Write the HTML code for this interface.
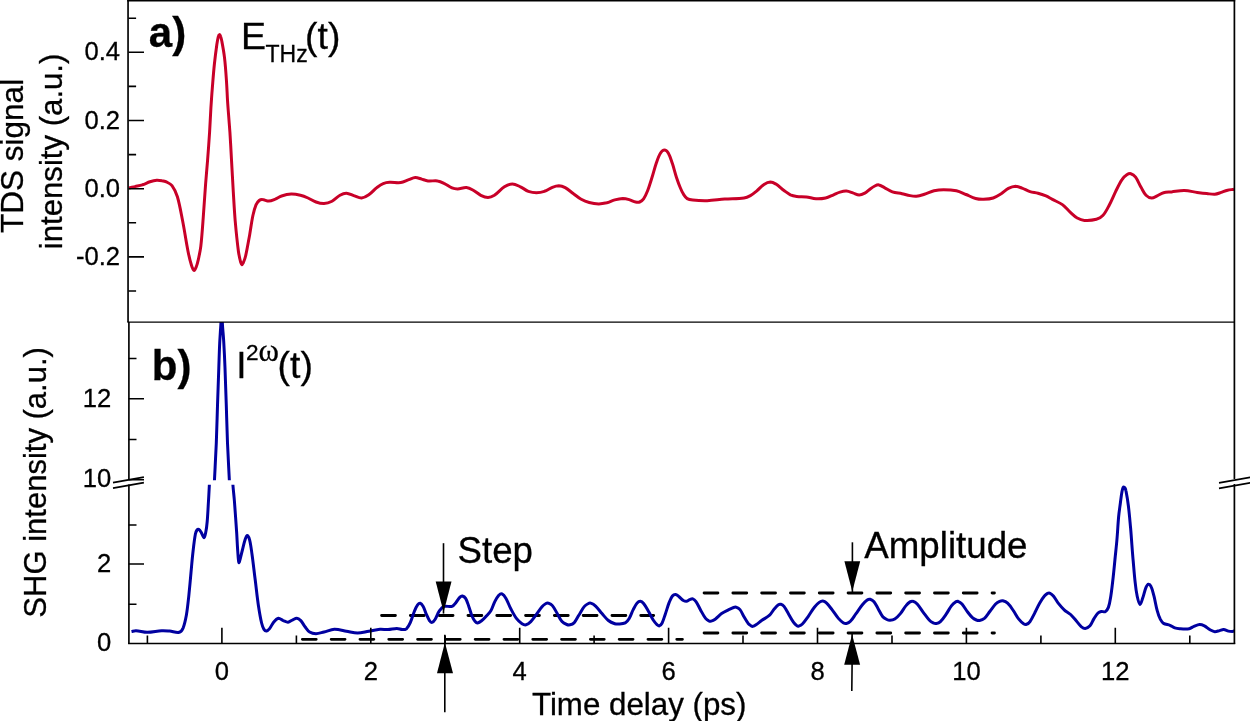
<!DOCTYPE html>
<html><head><meta charset="utf-8"><title>TDS and SHG</title>
<style>html,body{margin:0;padding:0;background:#fff}body{width:1250px;height:721px;overflow:hidden}svg{display:block}text{font-family:"Liberation Sans",sans-serif;fill:#000;stroke:#000;stroke-width:0.3px}</style></head><body>
<svg width="1250" height="721" viewBox="0 0 1250 721">
<rect width="1250" height="721" fill="#fff"/>
<defs><clipPath id="cu"><rect x="129" y="322" width="1105" height="158.2"/></clipPath><clipPath id="cl"><rect x="129" y="484.8" width="1105.4" height="160"/></clipPath><clipPath id="ca"><rect x="128.5" y="0" width="1105.9" height="322"/></clipPath></defs>
<g stroke="#000" stroke-width="2.9" stroke-dasharray="13.8 15" stroke-linecap="round" fill="none">
<path d="M302.4,639.35H682.4"/>
<path d="M381.6,615.45H653.6"/>
<path d="M704.1,593.0H994.4"/>
<path d="M704.1,633.0H994.4"/>
</g>
<path d="M128.8,188.0C130.9,187.5 132.9,187.1 135.0,186.6C137.5,186.0 140.0,185.6 142.4,184.8C145.0,184.0 147.4,182.6 150.0,181.8C152.2,181.1 154.5,180.5 156.8,180.3C158.5,180.2 160.3,180.5 162.0,180.8C163.5,181.0 165.1,181.3 166.4,181.9C168.4,182.9 170.7,183.9 172.0,185.6C174.4,188.8 176.2,192.9 177.4,196.8C179.7,204.6 181.0,212.8 182.6,220.8C184.6,230.9 186.0,241.1 188.0,251.2C188.9,255.8 190.0,260.5 191.4,265.0C192.0,266.9 193.1,270.0 194.1,270.4C194.7,270.7 195.7,268.2 196.2,267.0C197.2,264.5 197.8,261.8 198.4,259.2C199.3,255.0 200.3,250.7 200.8,246.4C201.9,237.0 202.5,227.5 203.2,218.0C204.1,206.7 204.7,195.3 205.6,184.0C206.2,176.0 207.0,168.0 207.6,160.0C208.3,150.7 209.0,141.3 209.6,132.0C210.1,124.0 210.4,116.0 210.9,108.0C211.3,101.9 211.7,95.7 212.2,89.6C212.9,81.1 213.5,72.5 214.4,64.0C215.1,57.6 215.9,51.2 216.8,44.8C217.2,42.2 217.6,39.5 218.2,37.0C218.4,36.1 219.0,34.7 219.4,34.6C219.8,34.5 220.4,35.8 220.6,36.5C221.2,38.1 221.6,39.9 221.9,41.6C222.9,46.9 223.9,52.2 224.5,57.6C225.4,65.0 225.9,72.5 226.4,80.0C226.9,86.7 227.1,93.3 227.5,100.0C227.8,105.0 228.2,110.0 228.6,115.0C229.0,120.7 229.5,126.3 229.9,132.0C230.5,141.3 231.0,150.7 231.5,160.0C232.1,170.7 232.7,181.3 233.3,192.0C233.9,201.7 234.4,211.4 235.2,221.0C236.1,231.1 237.1,241.2 238.4,251.2C238.9,254.8 239.7,258.5 240.6,262.0C240.9,263.0 241.4,264.7 241.9,264.8C242.3,264.9 243.0,263.3 243.4,262.5C244.3,260.4 245.1,258.2 245.6,256.0C247.2,249.1 248.3,242.1 249.6,235.2C250.7,228.8 251.5,222.3 252.8,216.0C253.6,212.2 254.5,208.3 256.0,204.8C256.7,203.2 257.9,201.6 259.2,200.5C260.0,199.8 261.3,199.4 262.4,199.5C264.5,199.6 266.7,201.1 268.8,201.1C270.9,201.0 273.1,200.0 275.2,199.2C277.4,198.3 279.3,196.7 281.6,196.0C284.7,195.0 288.0,194.2 291.2,194.1C294.2,194.0 297.4,194.6 300.4,195.3C303.0,195.9 305.5,196.9 308.0,198.0C310.7,199.2 313.2,201.0 316.0,202.0C318.5,202.9 321.4,203.7 324.0,203.6C326.7,203.5 329.6,202.5 332.0,201.2C334.9,199.7 337.1,196.9 340.0,195.3C341.9,194.2 344.3,193.1 346.4,193.2C349.1,193.3 351.7,195.1 354.4,195.9C356.8,196.7 359.3,198.2 361.6,198.0C364.1,197.8 366.7,196.3 368.8,194.8C371.7,192.8 374.0,189.8 376.8,187.6C378.8,186.1 380.9,184.5 383.2,183.6C385.2,182.8 387.4,182.4 389.6,182.3C393.3,182.1 397.2,183.0 400.8,182.5C403.6,182.1 406.1,180.5 408.8,179.6C410.9,178.9 413.0,177.6 415.2,177.5C417.3,177.4 419.5,178.5 421.6,179.1C423.7,179.7 425.8,180.7 428.0,180.9C431.2,181.3 434.5,180.4 437.6,180.9C439.8,181.2 442.0,182.3 444.0,183.3C446.8,184.6 449.2,186.7 452.0,187.9C453.7,188.6 455.7,188.9 457.6,188.9C460.5,188.8 463.5,187.4 466.4,187.6C468.6,187.8 470.8,188.9 472.8,190.0C475.6,191.5 478.0,193.9 480.8,195.3C483.0,196.4 485.6,197.5 488.0,197.5C490.1,197.5 492.5,196.5 494.4,195.3C498.0,192.9 500.8,189.1 504.4,186.8C506.8,185.3 509.7,183.9 512.4,183.9C515.1,183.9 517.8,185.6 520.4,186.8C523.2,188.1 525.6,190.3 528.4,191.3C530.9,192.2 533.7,192.7 536.4,192.7C539.1,192.7 541.9,192.2 544.4,191.3C547.2,190.4 549.6,188.4 552.4,187.3C554.4,186.5 556.7,185.7 558.8,185.7C560.9,185.8 563.3,186.6 565.2,187.6C568.1,189.2 570.5,191.5 573.2,193.5C575.9,195.4 578.4,197.7 581.2,199.3C583.7,200.7 586.4,201.8 589.2,202.5C592.3,203.3 595.6,203.8 598.8,203.9C601.5,203.9 604.2,203.4 606.8,202.8C609.5,202.1 612.1,200.6 614.8,199.9C617.4,199.2 620.1,198.6 622.8,198.5C624.9,198.5 627.1,199.0 629.2,199.6C631.4,200.2 633.4,201.5 635.6,202.0C636.9,202.3 638.4,202.5 639.6,202.0C641.1,201.4 642.6,200.2 643.6,198.8C645.3,196.4 646.5,193.6 647.6,190.8C649.2,186.9 650.3,182.8 651.6,178.8C653.3,173.5 654.6,168.1 656.4,162.8C657.5,159.5 658.6,156.1 660.4,153.2C661.3,151.8 663.1,150.0 664.4,150.0C665.7,150.0 667.6,151.8 668.4,153.2C670.2,156.3 671.2,160.1 672.4,163.6C673.9,168.1 674.9,172.7 676.4,177.2C677.6,180.8 678.9,184.5 680.4,188.0C681.3,190.2 682.3,192.4 683.6,194.4C684.6,195.9 685.7,197.7 687.2,198.6C688.8,199.6 690.9,199.9 692.8,200.1C697.6,200.6 702.4,200.8 707.2,200.7C713.1,200.5 718.9,199.5 724.8,199.1C731.2,198.6 737.7,198.9 744.0,198.0C746.2,197.7 748.4,196.7 750.4,195.6C752.7,194.3 754.7,192.5 756.8,190.8C759.3,188.8 761.3,186.1 764.0,184.4C765.9,183.2 768.3,182.1 770.4,182.0C772.3,182.0 774.3,183.1 776.0,184.1C778.9,185.9 781.3,188.5 784.0,190.5C786.1,192.0 788.1,193.7 790.4,194.8C792.4,195.7 794.6,196.1 796.8,196.4C800.0,196.8 803.2,196.5 806.4,196.9C809.6,197.3 812.8,198.6 816.0,198.8C819.2,199.0 822.5,198.7 825.6,198.0C828.4,197.4 830.9,195.9 833.6,194.8C835.7,193.9 837.8,192.7 840.0,192.1C842.1,191.5 844.3,191.0 846.4,191.1C848.6,191.2 850.7,192.2 852.8,192.9C855.0,193.6 857.1,195.0 859.2,195.1C861.1,195.1 863.1,194.1 864.8,193.2C866.8,192.1 868.4,190.3 870.2,189.0C871.7,187.9 873.2,186.8 874.8,186.0C876.0,185.4 877.5,184.7 878.8,184.9C880.7,185.2 882.6,186.7 884.4,187.6C887.1,189.0 889.6,190.9 892.4,191.9C895.4,193.0 898.8,193.0 902.0,193.7C904.7,194.3 907.3,195.1 910.0,195.6C912.1,196.0 914.3,196.4 916.4,196.2C919.1,196.0 921.8,195.1 924.4,194.3C927.7,193.3 930.7,191.6 934.0,190.8C937.1,190.1 940.4,189.7 943.6,189.7C947.9,189.7 952.3,189.9 956.4,190.8C959.7,191.5 962.8,193.2 966.0,194.5C969.2,195.8 972.3,197.6 975.6,198.5C978.2,199.2 980.9,199.4 983.6,199.3C986.8,199.2 990.2,199.0 993.2,198.0C996.0,197.1 998.6,195.3 1001.2,193.7C1003.7,192.1 1005.8,189.7 1008.4,188.4C1010.6,187.3 1013.2,186.4 1015.6,186.3C1017.7,186.3 1019.9,187.3 1022.0,188.1C1024.7,189.1 1027.2,190.7 1030.0,191.6C1032.6,192.4 1035.4,192.5 1038.0,193.2C1040.7,193.9 1043.4,194.8 1046.0,195.9C1048.2,196.9 1050.3,198.3 1052.4,199.4C1055.7,201.2 1059.4,202.4 1062.4,204.6C1065.4,206.8 1067.6,209.9 1070.4,212.4C1072.6,214.4 1074.7,216.6 1077.2,218.0C1079.4,219.2 1081.9,220.2 1084.4,220.4C1088.3,220.7 1092.6,220.3 1096.4,219.3C1098.7,218.7 1101.2,217.4 1102.8,215.6C1105.5,212.7 1107.3,208.8 1109.2,205.2C1111.6,200.8 1113.4,196.1 1115.6,191.6C1117.6,187.5 1119.5,183.3 1122.0,179.6C1123.2,177.7 1125.0,176.0 1126.8,174.8C1127.9,174.1 1129.6,173.4 1130.8,173.7C1132.5,174.2 1134.4,175.6 1135.6,177.2C1137.9,180.3 1139.2,184.2 1141.2,187.6C1142.7,190.2 1143.9,193.2 1146.0,195.3C1147.4,196.7 1149.7,197.9 1151.6,198.0C1153.4,198.1 1155.4,196.7 1157.2,195.9C1159.4,194.9 1161.3,193.3 1163.6,192.7C1166.1,192.0 1168.9,192.2 1171.6,191.9C1175.9,191.4 1180.1,190.4 1184.4,190.5C1188.7,190.6 1192.9,191.8 1197.2,192.4C1200.4,192.8 1203.6,193.2 1206.8,193.5C1209.5,193.8 1212.2,194.5 1214.8,194.3C1217.0,194.1 1219.1,193.1 1221.2,192.4C1223.3,191.7 1225.4,190.8 1227.6,190.3C1229.7,189.8 1231.9,189.6 1234.0,189.2" fill="none" stroke="#c80028" stroke-width="3.0" stroke-linejoin="round" stroke-linecap="butt" clip-path="url(#ca)"/>
<g fill="none" stroke="#0000a0" stroke-width="3.0" stroke-linejoin="round">
<path d="M131.5,631.5C133.0,631.2 134.5,630.6 136.0,630.7C139.7,630.9 143.5,632.3 147.2,632.3C152.0,632.3 156.8,631.0 161.6,630.7C164.3,630.5 166.9,630.8 169.6,631.0C172.8,631.3 176.4,633.0 179.2,632.3C180.9,631.9 182.4,629.6 183.2,627.8C184.8,623.8 185.6,619.3 186.4,615.0C187.5,608.7 188.1,602.2 188.8,595.8C189.6,588.0 190.3,580.3 191.0,572.5C191.7,565.0 192.3,557.5 193.2,550.0C193.8,544.7 194.4,539.3 195.4,534.0C195.7,532.6 196.2,531.1 197.0,530.0C197.4,529.5 198.3,529.1 198.8,529.3C199.7,529.7 200.4,531.0 201.0,532.0C202.1,533.8 203.3,537.7 204.1,537.7C204.9,537.7 205.4,533.9 205.8,532.0C206.5,528.5 206.9,525.0 207.2,521.5C207.7,515.7 208.0,509.8 208.3,504.0C208.7,498.0 209.0,492.0 209.3,486.0C209.5,481.7 209.8,477.3 210.0,473.0" clip-path="url(#cl)"/>
<path d="M213.6,497.0C213.9,491.1 214.2,485.2 214.5,479.3C215.1,467.2 215.8,455.1 216.3,443.0C216.8,430.5 217.1,418.0 217.5,405.5C217.9,393.0 218.4,380.5 218.8,368.0C219.1,359.7 219.3,351.3 219.7,343.0C220.0,337.2 220.4,331.3 220.8,325.5C221.1,321.0 221.4,312.0 221.7,312.0C222.0,312.0 222.2,321.0 222.5,325.5C222.9,331.3 223.5,337.2 223.8,343.0C224.3,351.3 224.7,359.7 225.0,368.0C225.5,380.5 225.9,393.0 226.3,405.5C226.7,418.0 227.0,430.5 227.5,443.0C228.0,455.1 228.7,467.2 229.3,479.3C229.6,485.2 229.9,491.1 230.2,497.0" clip-path="url(#cu)"/>
<path d="M232.2,473.0C232.5,477.3 232.7,481.7 233.0,486.0C233.4,491.0 234.0,496.0 234.4,501.0C235.2,511.7 236.0,522.5 236.7,533.2C237.1,539.5 237.3,545.7 237.8,552.0C238.1,555.5 238.3,561.1 238.9,562.5C239.2,563.1 240.0,559.5 240.4,558.0C241.1,555.4 241.7,552.7 242.4,550.0C243.3,546.7 243.9,543.3 245.0,540.0C245.5,538.4 246.4,535.4 247.2,535.4C248.0,535.4 249.2,538.2 249.6,539.8C250.8,544.5 251.3,549.4 252.0,554.2C253.2,562.7 254.1,571.3 255.2,579.8C256.3,588.3 257.1,596.9 258.4,605.4C259.3,611.3 260.2,617.2 261.6,623.0C262.1,625.2 262.9,627.5 264.0,629.4C264.5,630.2 265.6,631.1 266.4,631.0C267.5,630.8 268.8,629.6 269.6,628.6C271.2,626.7 272.0,624.1 273.6,622.2C274.9,620.6 276.7,618.5 278.4,618.2C279.9,618.0 281.6,619.9 283.2,620.6C284.8,621.2 286.4,622.3 288.0,622.2C289.6,622.1 291.2,620.5 292.8,619.8C294.1,619.2 295.5,618.1 296.8,618.2C298.2,618.3 299.7,619.5 300.8,620.6C302.5,622.4 303.6,625.0 305.2,627.0C306.6,628.8 307.8,630.9 309.6,632.0C311.4,633.1 313.9,633.7 316.0,633.7C318.7,633.7 321.3,632.6 324.0,632.0C327.5,631.2 330.9,629.4 334.4,629.3C338.4,629.2 342.4,630.5 346.4,631.2C350.1,631.8 353.9,633.1 357.6,633.1C361.3,633.1 365.1,631.8 368.8,631.2C372.5,630.6 376.2,629.6 380.0,629.3C382.6,629.1 385.3,629.7 388.0,629.6C390.9,629.5 393.9,628.5 396.8,628.5C398.7,628.5 400.5,629.5 402.4,629.6C403.7,629.6 405.5,629.6 406.4,628.8C408.1,627.2 409.4,624.7 410.4,622.4C412.0,618.8 412.9,614.9 414.4,611.2C415.3,609.0 416.2,606.7 417.6,604.8C418.2,604.0 419.5,603.0 420.3,603.2C421.4,603.5 422.5,605.2 423.2,606.4C424.6,608.9 425.2,611.8 426.4,614.4C427.4,616.6 428.3,618.9 429.6,620.8C430.1,621.6 431.3,622.6 432.0,622.4C433.1,622.1 434.4,620.5 435.2,619.2C436.8,616.7 437.5,613.6 439.2,611.2C440.5,609.4 442.0,607.1 444.0,606.4C446.3,605.5 449.7,607.2 452.0,606.4C453.7,605.8 454.8,603.8 456.0,602.4C457.4,600.7 458.5,598.6 460.0,597.1C460.6,596.5 461.7,595.8 462.4,596.0C463.5,596.3 464.9,597.3 465.6,598.4C467.1,600.8 467.8,603.7 468.8,606.4C470.0,609.6 470.7,612.9 472.0,616.0C472.8,618.0 473.9,620.0 475.2,621.6C475.8,622.3 476.8,623.0 477.6,622.9C478.9,622.7 480.4,621.7 481.6,620.8C483.4,619.4 484.9,617.7 486.4,616.0C488.0,614.2 489.8,612.5 491.0,610.5C492.6,607.7 493.3,604.5 494.8,601.6C495.9,599.4 497.2,597.0 498.8,595.2C499.6,594.4 501.1,593.5 502.0,593.9C503.5,594.6 505.0,596.7 506.0,598.4C507.9,601.7 509.0,605.4 510.8,608.8C512.5,612.1 514.2,615.5 516.4,618.4C517.9,620.4 519.9,622.3 522.0,623.7C523.1,624.4 524.8,625.1 526.0,624.8C527.7,624.4 529.5,622.9 530.8,621.6C532.9,619.5 534.6,616.8 536.4,614.4C538.3,611.9 539.9,609.1 542.0,606.7C543.1,605.4 544.6,604.3 546.0,603.5C546.7,603.1 547.7,603.0 548.4,603.2C549.8,603.7 551.4,604.4 552.4,605.6C554.4,607.9 555.6,610.9 557.2,613.6C558.8,616.3 560.0,619.3 562.0,621.6C563.2,623.0 565.1,623.8 566.8,624.5C567.8,624.9 569.0,625.0 570.0,624.8C571.4,624.5 573.0,623.9 574.0,622.9C576.0,620.7 577.2,617.8 578.8,615.2C580.7,612.3 582.2,609.0 584.4,606.4C585.4,605.1 587.0,604.2 588.4,603.5C589.1,603.1 590.1,602.9 590.8,603.2C592.5,603.8 594.2,604.8 595.6,606.1C598.0,608.3 599.8,611.1 602.0,613.6C604.1,615.9 606.0,618.6 608.4,620.5C610.2,622.0 612.6,623.0 614.8,623.7C616.3,624.2 618.0,624.1 619.6,624.0C621.5,623.9 623.6,623.8 625.2,622.9C626.8,621.9 628.2,620.1 629.2,618.4C630.8,615.7 631.7,612.5 633.2,609.6C634.4,607.3 635.6,604.8 637.2,602.9C638.0,602.0 639.4,601.2 640.4,601.3C641.5,601.4 642.8,602.5 643.6,603.5C645.5,605.8 646.9,608.6 648.4,611.2C650.1,614.1 651.4,617.2 653.2,620.0C654.3,621.7 655.7,623.4 657.2,624.8C657.8,625.3 658.7,626.1 659.3,625.9C660.3,625.6 661.4,624.3 662.0,623.2C663.4,620.5 664.2,617.3 665.2,614.4C666.6,610.4 667.7,606.3 669.2,602.4C670.1,600.2 671.0,597.8 672.4,596.0C673.1,595.1 674.6,594.3 675.6,594.4C676.7,594.5 677.8,595.7 678.8,596.5C680.4,597.7 681.7,599.4 683.4,600.5C684.3,601.0 685.4,601.4 686.4,601.3C687.5,601.2 688.5,600.1 689.6,599.7C690.6,599.3 691.9,598.6 692.8,598.9C694.0,599.3 695.2,600.5 696.0,601.6C697.9,604.3 699.1,607.5 700.8,610.4C702.3,613.1 703.7,616.0 705.6,618.4C706.4,619.4 707.6,620.2 708.8,620.8C709.5,621.1 710.4,621.3 711.2,621.1C712.6,620.8 714.0,620.1 715.2,619.2C717.5,617.6 719.3,615.2 721.6,613.6C723.6,612.2 725.8,611.2 728.0,610.1C729.8,609.2 731.7,608.2 733.6,607.5C734.4,607.2 735.3,607.0 736.0,607.2C737.4,607.7 739.0,608.4 740.0,609.6C741.7,611.6 742.6,614.4 744.0,616.8C745.3,619.0 746.5,621.2 748.0,623.2C748.9,624.3 750.1,625.1 751.2,625.9C751.7,626.2 752.3,626.5 752.8,626.4C753.9,626.2 755.0,625.5 756.0,624.8C757.9,623.5 759.7,621.9 761.6,620.5C764.2,618.7 767.3,617.3 769.6,615.2C771.5,613.4 772.7,610.8 774.4,608.8C775.6,607.4 776.9,605.8 778.4,604.8C779.0,604.3 780.1,604.1 780.8,604.3C781.9,604.6 783.2,605.4 784.0,606.4C785.9,608.8 787.2,611.7 788.8,614.4C790.4,617.1 791.8,619.9 793.6,622.4C794.5,623.6 795.6,624.7 796.8,625.6C797.3,626.0 798.1,626.3 798.7,626.1C800.0,625.7 801.4,625.0 802.4,624.0C804.5,621.9 806.2,619.3 808.0,616.8C810.2,613.7 812.0,610.2 814.4,607.2C815.8,605.4 817.4,603.7 819.2,602.4C820.2,601.7 821.7,601.0 822.9,601.1C824.1,601.2 825.5,602.0 826.4,602.9C828.5,604.9 830.2,607.3 832.0,609.6C834.2,612.5 836.1,615.7 838.4,618.4C839.8,620.0 841.4,621.6 843.2,622.7C844.1,623.3 845.4,623.7 846.4,623.5C847.8,623.2 849.4,622.4 850.4,621.3C852.6,619.1 854.1,616.2 856.0,613.6C858.1,610.7 860.1,607.6 862.4,604.8C863.8,603.1 865.4,601.3 867.2,600.0C868.0,599.4 869.2,599.0 870.1,599.2C871.5,599.6 873.0,600.6 874.0,601.8C875.6,603.7 876.7,606.2 878.0,608.4C879.6,611.2 880.8,614.3 882.8,616.8C883.8,618.0 885.4,618.8 886.8,619.5C887.8,620.0 888.9,620.4 890.0,620.3C891.6,620.2 893.4,619.8 894.8,618.9C896.9,617.5 898.8,615.6 900.4,613.6C902.5,611.1 903.9,608.1 906.0,605.6C907.1,604.2 908.5,602.8 910.0,601.9C910.8,601.4 912.0,601.0 912.9,601.3C914.4,601.7 916.1,602.8 917.2,604.0C919.6,606.6 921.4,609.9 923.6,612.8C925.4,615.2 927.1,617.8 929.2,620.0C930.3,621.2 931.8,622.2 933.2,622.9C934.2,623.4 935.4,623.7 936.4,623.5C937.8,623.3 939.4,622.6 940.4,621.6C942.6,619.6 944.3,616.9 946.0,614.4C948.0,611.6 949.5,608.3 951.6,605.6C952.7,604.2 954.1,602.9 955.6,601.9C956.3,601.5 957.3,601.1 958.0,601.3C959.4,601.8 960.9,602.8 962.0,604.0C964.1,606.4 965.6,609.4 967.6,612.0C969.1,614.0 970.6,616.0 972.4,617.6C973.5,618.6 975.0,619.4 976.4,620.0C977.4,620.4 978.6,620.7 979.6,620.5C981.2,620.2 983.1,619.5 984.4,618.4C986.6,616.4 988.1,613.6 990.0,611.2C991.9,608.8 993.5,606.2 995.6,604.0C996.7,602.9 998.2,601.9 999.6,601.3C1000.6,600.9 1001.8,600.6 1002.8,600.8C1004.5,601.2 1006.3,602.0 1007.6,603.2C1009.8,605.2 1011.5,607.9 1013.2,610.4C1015.2,613.2 1016.7,616.5 1018.8,619.2C1020.1,620.9 1021.8,622.5 1023.6,623.7C1024.4,624.2 1025.6,624.6 1026.5,624.3C1027.8,623.9 1029.2,622.8 1030.0,621.6C1031.9,618.9 1033.3,615.8 1034.8,612.8C1036.5,609.6 1037.8,606.3 1039.6,603.2C1041.0,600.7 1042.6,598.2 1044.4,596.0C1045.3,594.9 1046.4,593.9 1047.6,593.3C1048.2,593.0 1049.1,592.8 1049.7,593.1C1051.0,593.7 1052.4,594.8 1053.4,596.0C1055.3,598.2 1056.6,601.1 1058.4,603.4C1060.2,605.7 1062.1,607.9 1064.2,609.8C1066.1,611.6 1068.7,612.7 1070.6,614.5C1072.7,616.5 1074.5,618.8 1076.4,621.0C1078.0,622.8 1079.4,625.0 1081.2,626.6C1082.3,627.5 1083.9,628.6 1085.2,628.5C1086.8,628.4 1088.8,627.1 1090.0,625.8C1091.8,623.8 1092.5,620.9 1094.0,618.6C1095.2,616.7 1096.4,614.6 1098.0,613.0C1098.8,612.2 1100.1,611.6 1101.2,611.4C1102.5,611.2 1104.2,612.3 1105.2,611.7C1106.6,610.9 1107.8,609.0 1108.4,607.4C1109.7,603.9 1110.2,600.0 1110.8,596.2C1111.8,589.8 1112.5,583.4 1113.2,577.0C1113.9,570.7 1114.5,564.3 1115.1,558.0C1115.7,552.0 1116.4,546.0 1116.9,540.0C1117.6,532.3 1117.9,524.7 1118.6,517.0C1119.0,512.3 1119.8,507.5 1120.4,502.8C1120.9,499.0 1121.3,495.2 1122.0,491.5C1122.3,490.0 1122.6,488.1 1123.3,487.1C1123.5,486.8 1124.5,487.2 1124.8,487.6C1125.4,488.5 1125.8,489.8 1126.0,491.0C1127.0,496.0 1127.8,501.0 1128.4,506.0C1129.3,513.3 1129.9,520.7 1130.6,528.0C1131.1,533.7 1131.5,539.3 1131.9,545.0C1132.3,550.3 1132.7,555.7 1133.2,561.0C1133.8,567.9 1134.3,574.9 1135.1,581.8C1135.6,586.6 1136.2,591.5 1137.2,596.2C1137.8,599.0 1139.1,604.2 1140.1,604.5C1140.9,604.7 1142.0,600.1 1142.8,597.8C1144.0,594.4 1144.6,590.7 1146.0,587.4C1146.5,586.2 1147.5,584.3 1148.4,584.2C1149.2,584.1 1150.6,585.5 1151.1,586.6C1152.5,589.5 1153.2,593.0 1154.0,596.2C1155.2,601.0 1155.9,605.9 1157.2,610.6C1158.0,613.6 1159.0,616.6 1160.4,619.4C1161.2,620.9 1162.2,622.5 1163.6,623.4C1165.4,624.5 1167.9,624.5 1170.0,625.3C1171.7,626.0 1173.1,627.3 1174.8,627.9C1176.3,628.4 1178.0,628.6 1179.6,628.7C1182.8,628.9 1186.1,629.2 1189.2,628.7C1190.9,628.4 1192.3,627.0 1194.0,626.3C1195.8,625.6 1197.7,624.6 1199.6,624.5C1201.2,624.4 1202.9,625.1 1204.4,625.8C1206.4,626.8 1208.0,628.7 1210.0,629.8C1211.5,630.6 1213.2,631.6 1214.8,631.7C1216.4,631.8 1218.0,631.0 1219.6,630.6C1220.9,630.3 1222.3,629.4 1223.6,629.5C1225.2,629.6 1226.8,630.7 1228.4,631.1C1229.7,631.4 1231.1,631.4 1232.4,631.4C1233.1,631.4 1233.9,631.1 1234.6,630.9" clip-path="url(#cl)"/>
</g>
<g stroke="#000" fill="none">
<path d="M128.05,0V322M128.9,322V479.6M128.9,484.6V644.1" stroke-width="1.65"/>
<path d="M1234.4,0V479.0M1234.4,484.0V644.1" stroke-width="1.7"/>
<path d="M127.2,0.7H1235.2" stroke-width="1.6"/>
<path d="M128.1,643.4H1235.2" stroke-width="1.45"/>
<path d="M127.3,322.1H1234.4" stroke-width="1.4"/>
<path d="M113.0,482.7L143.9,477.1M113.0,488.1L143.9,482.6" stroke-width="1.7"/>
<path d="M1219,482.9L1250.2,477.3M1219,488.3L1250.2,482.8" stroke-width="1.7"/>
<path d="M128.5,52.3h15.5M128.5,120.5h15.5M128.5,188.7h15.5M128.5,256.9h15.5M128.5,18.2h7.6M128.5,86.4h7.6M128.5,154.6h7.6M128.5,222.8h7.6M128.5,291.0h7.6M128.5,398.7h15.5M128.5,479.8h15.5M128.5,564.0h15.5M128.5,358.5h8M128.5,439.5h8M128.5,525.0h8M128.5,604.2h8M221.9,643.4v-15.7M370.8,643.4v-15.7M519.7,643.4v-15.7M668.6,643.4v-15.7M817.5,643.4v-15.7M966.4,643.4v-15.7M1115.3,643.4v-15.7M147.4,643.4v-8M296.4,643.4v-8M445.2,643.4v-8M594.1,643.4v-8M743.0,643.4v-8M892.0,643.4v-8M1040.9,643.4v-8M1189.8,643.4v-8" stroke-width="1.6"/>
</g>
<g stroke="#000" stroke-width="1.6" fill="none">
<path d="M443.5,543.2V613.6"/><path d="M444.8,634.7V712.2"/><path d="M852.4,542.3V592.2"/><path d="M852.1,633.8V664L851.8,691.1"/>
</g>
<g fill="#000" stroke="none">
<path d="M435.7,581.6H451.5L443.6,612.2Z"/>
<path d="M437.0,673.2H453.0L444.9,642.4Z"/>
<path d="M844.4,561.3H860.2L852.3,591.5Z"/>
<path d="M844.2,664.7H860.1L852.1,634.6Z"/>
</g>
<g font-size="25.6px" text-anchor="end">
<text x="120.0" y="60.3">0.4</text>
<text x="120.0" y="128.5">0.2</text>
<text x="120.0" y="196.7">0.0</text>
<text x="120.0" y="264.9">-0.2</text>
<text x="111.3" y="407.1">12</text>
<text x="111.3" y="487.2">10</text>
<text x="111.3" y="572.4">2</text>
<text x="111.3" y="650.6">0</text>
</g>
<g font-size="25.6px" text-anchor="middle">
<text x="221.9" y="679.7">0</text>
<text x="370.8" y="679.7">2</text>
<text x="519.7" y="679.7">4</text>
<text x="668.6" y="679.7">6</text>
<text x="817.5" y="679.7">8</text>
<text x="966.4" y="679.7">10</text>
<text x="1115.3" y="679.7">12</text>
</g>
<text x="639.2" y="714.5" font-size="31.3px" text-anchor="middle">Time delay (ps)</text>
<text transform="translate(23,155.9) rotate(-90)" font-size="31.5px" text-anchor="middle">TDS signal</text>
<text transform="translate(62,151.4) rotate(-90)" font-size="31.15px" text-anchor="middle">intensity (a.u.)</text>
<text transform="translate(46.4,482.4) rotate(-90)" font-size="31px" text-anchor="middle">SHG intensity (a.u.)</text>
<text x="148.8" y="47.4" font-size="42px" font-weight="bold">a)</text>
<text x="151.8" y="379.6" font-size="42px" font-weight="bold">b)</text>
<text x="241.0" y="48.7" font-size="37.5px">E</text><text x="265.5" y="61.8" font-size="23px">THz</text><text x="305.1" y="48.7" font-size="37.3px">(t)</text>
<text x="236.3" y="378" font-size="37px">I</text><text x="245.9" y="360" font-size="22.6px">2</text><text x="258.5" y="360.8" font-size="31px" font-family="Liberation Serif, serif" style="font-family:'Liberation Serif',serif">ω</text><text x="277.6" y="378" font-size="37.3px">(t)</text>
<text x="457.5" y="563.2" font-size="36.7px">Step</text>
<text x="864.3" y="558.1" font-size="36.7px">Amplitude</text>
</svg></body></html>
